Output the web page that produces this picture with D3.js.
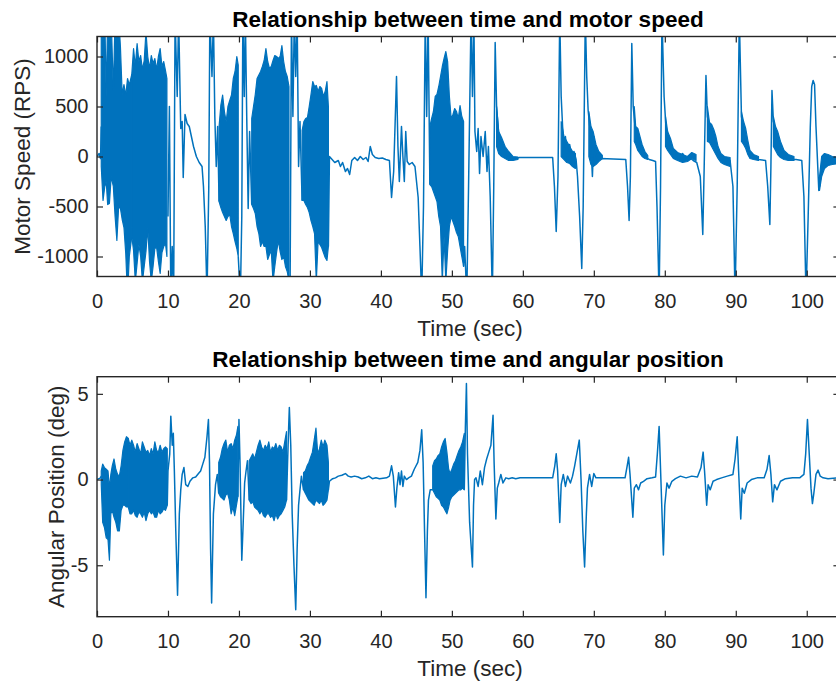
<!DOCTYPE html>
<html>
<head>
<meta charset="utf-8">
<script src="https://cdn.jsdelivr.net/npm/d3@7"></script>
<style>
  body { margin: 0; background: #fff; }
  text { font-family: "Liberation Sans", Arial, sans-serif; fill: #262626; }
</style>
</head>
<body>
<div id="chart"></div>
<script>
// tick labels
var timeTicks = [0, 10, 20, 30, 40, 50, 60, 70, 80, 90, 100];
var speedTicks = [-1000, -500, 0, 500, 1000];
var angleTicks = [-5, 0, 5];

// motor speed trace [sec, RPS] (values past +-1200 are clipped by the axes)
var speedTrace = [
  [0,0],[0.3,30],[0.5,-20],[0.6,300],
  [10.0,-600],[10.2,500],[10.4,-1400],[10.6,-900],[10.8,-1400],[11.0,1400],[11.3,600],[11.5,1400],[11.8,280],
  [12.0,350],[12.15,-210],[12.4,420],[12.7,330],[13.0,300],[13.3,200],[13.6,100],[14.0,0],[14.4,-60],
  [14.8,-100],[15.0,-300],[15.25,-700],[15.5,-1400],[15.75,-300],[15.9,1400],[16.2,800],[16.4,1400],
  [16.6,400],[16.8,-100],[17.0,300],[17.2,-450],
  [19.9,-1000],[20.2,-1400],[20.4,-600],[20.55,1400],[20.75,600],[20.9,1400],[21.1,380],[21.3,-520],
  [21.5,250],[21.8,-480],
  [27.05,-1250],[27.2,-1400],[27.4,1400],[27.6,400],[27.8,1400],[28.0,800],[28.2,1400],[28.4,-100],
  [28.6,350],[28.9,-440],
  [32.6,-900],[32.75,0],[33.0,-20],[33.5,-60],[34.0,-40],[34.3,-100],[34.6,-60],[35.0,-150],[35.3,-120],
  [35.6,-180],[35.9,-40],[36.3,-10],[36.7,-40],[37.1,0],[37.5,-30],[37.9,-10],[38.2,-50],[38.5,100],
  [38.8,20],[39.2,-10],[39.7,-20],[40.2,-15],[40.7,-30],[41.2,-40],[41.5,-410],[41.8,-150],[42.2,800],
  [42.4,100],[42.6,-250],[42.9,300],[43.1,0],[43.3,-250],[43.5,250],[43.7,-50],[44.0,-80],[44.4,-60],
  [44.8,-100],[45.25,-410],[45.5,-900],[45.75,-1400],[46.0,-500],[46.25,1400],[46.45,400],[46.65,1400],
  [46.9,-280],
  [51.65,-1100],[51.8,-900],[52.1,-1400],[52.35,-300],[52.7,1400],[52.9,600],[53.1,1400],[53.25,250],
  [53.5,50],[53.7,280],[53.9,-170],[54.1,200],[54.4,0],[54.7,250],[54.95,-150],[55.15,100],[55.4,-400],
  [55.7,-1400],[55.9,-300],[56.1,1140],[56.3,500],[56.6,220],[56.9,150],[57.3,80],[57.7,30],[58.1,-15],
  [58.6,-30],[59.1,-20],[59.5,-10],[64.2,-10],[64.45,-300],[64.7,-750],[64.95,-200],[65.2,1400],[65.4,600],
  [65.6,300],[65.8,100],[66.0,200],[66.3,-50],[66.6,120],[66.9,-20],[67.2,50],[67.5,-30],[67.7,-200],
  [68.0,-600],[68.3,-1120],[68.5,-500],[68.8,1400],[69.0,800],[69.2,460],[69.5,250],[69.8,-200],[70.0,200],
  [70.3,0],[70.6,-30],[71.0,-20],[74.5,-30],[74.75,-300],[74.97,-640],[75.15,-200],[75.35,1130],[75.55,500],
  [75.8,300],[76.1,220],[76.4,180],[76.7,100],[77.0,50],[77.4,-10],[77.8,-30],[78.3,-40],[78.7,-50],
  [78.9,-500],[79.2,-1400],[79.4,-300],[79.6,1400],[79.9,600],[80.2,250],[80.6,150],[81.0,50],[81.5,0],
  [82.0,-20],[82.5,30],[83.0,-30],[83.5,-10],[84.0,-40],[84.5,-60],[85.0,-200],[85.35,-780],[85.55,-100],
  [85.8,810],[86.0,400],[86.3,300],[86.6,250],[87.0,150],[87.5,50],[88.0,-20],[88.5,-30],[89.2,-40],
  [89.6,-300],[89.9,-1400],[90.2,-300],[90.5,1400],[90.8,400],[91.1,280],[91.5,150],[92.0,20],[92.5,-20],
  [93.2,-30],[94.2,-40],[94.5,-300],[94.8,-680],[94.95,-100],[95.1,660],[95.3,350],[95.6,270],[96.0,150],
  [96.5,40],[97.0,-10],[97.5,-30],[98.5,-30],[99.3,-40],[99.6,-400],[99.9,-1400],[100.2,-600],[100.5,300],
  [100.7,700],[100.9,760],[101.1,720],[101.3,300],[101.7,-340],[101.9,-250],[102.2,-50],[102.5,-100],
  [102.8,-30],[103.2,-80],[103.6,-40],[104.0,-60],[104.6,-50]
];

// dense oscillation envelopes of the speed trace [sec, low, high]
var speedBand0 = [
  [0.6,-100,1400],[0.85,-440,1400],[1.1,-300,1400],[1.3,-250,600],[1.5,-480,1400],[1.75,-470,1400],
  [2.0,-200,1400],[2.3,-300,650],[2.55,-600,1400],[2.8,-840,1400],[3.05,-500,1400],[3.3,-520,1100],
  [3.55,-630,620],[3.8,-710,720],[4.05,-970,610],[4.3,-1400,780],[4.55,-1000,715],[4.9,-800,820]
];
var speedBand1 = [
  [4.9,-800,820],[5.15,-940,1080],[5.4,-1250,900],[5.65,-1070,1130],[5.9,-880,950],[6.15,-1000,1010],
  [6.4,-1250,870],[6.65,-1100,960],[6.9,-950,1250],[7.15,-710,1000],[7.4,-1050,880],[7.65,-1250,1010],
  [7.9,-1100,930],[8.15,-920,980],[8.4,-910,870],[8.65,-1050,1000],[8.9,-1170,1080],[9.15,-960,900],
  [9.4,-900,950],[9.65,-870,860],[9.85,-1000,780]
];
var speedBand2 = [
  [17.2,-450,300],[17.45,-510,515],[17.7,-560,615],[17.95,-600,450],[18.2,-640,350],[18.45,-600,500],
  [18.7,-580,560],[18.95,-700,615],[19.2,-770,780],[19.45,-850,850],[19.7,-920,1000],[19.9,-1000,915]
];
var speedBand3 = [
  [21.8,-480,380],[22.05,-520,500],[22.3,-570,620],[22.55,-700,780],[22.8,-770,815],[23.05,-900,850],
  [23.3,-850,900],[23.55,-900,960],[23.8,-900,1080],[24.05,-1030,950],[24.3,-980,880],[24.55,-940,900],
  [24.8,-1250,960],[25.05,-1100,1010],[25.3,-960,1000],[25.55,-840,980],[25.8,-950,1000],[26.05,-1030,1110],
  [26.3,-1000,950],[26.55,-1100,850],[26.8,-1150,800],[27.05,-1250,700]
];
var speedBand4 = [
  [28.9,-440,260],[29.15,-440,350],[29.4,-480,380],[29.65,-510,390],[29.9,-560,500],[30.15,-640,620],
  [30.4,-700,750],[30.65,-770,700],[30.9,-1250,710],[31.15,-850,650],[31.4,-880,700],[31.65,-910,680],
  [31.9,-960,600],[32.15,-1010,650],[32.4,-1040,750],[32.6,-900,500]
];
var speedBand5 = [
  [46.9,-280,300],[47.15,-300,380],[47.4,-350,450],[47.65,-400,600],[47.9,-450,620],[48.15,-600,700],
  [48.4,-700,800],[48.65,-1250,900],[48.9,-800,980],[49.15,-1250,1050],[49.4,-940,950],[49.65,-700,600],
  [49.9,-600,380],[50.15,-650,420],[50.4,-700,480],[50.65,-760,450],[50.9,-800,380],[51.15,-900,510],
  [51.4,-1000,400],[51.65,-1100,350]
];
// fuzzy settling after each speed spike [sec, low, high]
var speedDecay1 = [[56.3,100,500],[56.6,30,250],[57.0,0,190],[57.5,-20,100],[58.0,-40,50],[58.6,-40,0],[59.3,-30,-5]];
var speedDecay2 = [[65.4,0,350],[65.8,-30,200],[66.2,-60,150],[66.6,-70,100],[67.0,-100,50],[67.4,-120,30]];
var speedDecay3 = [[69.3,0,450],[69.6,-80,300],[69.9,-100,250],[70.3,-80,120],[70.7,-50,50],[71.2,-20,10]];
var speedDecay4 = [[75.7,150,500],[75.9,120,300],[76.2,60,280],[76.5,30,200],[76.8,0,120],[77.2,-20,50],[77.6,-30,10]];
var speedDecay5 = [[80.1,100,400],[80.4,60,250],[80.8,20,180],[81.2,-20,80],[81.8,-40,40],[82.5,-60,20],[83.2,-50,0],[83.8,-20,40],[84.4,-40,20]];
var speedDecay6 = [[86.0,150,500],[86.3,140,340],[86.6,100,320],[86.9,60,270],[87.2,20,200],[87.5,-20,100],[87.9,-60,30],[88.4,-80,0],[89.2,-100,-10]];
var speedDecay7 = [[90.8,150,450],[91.1,120,350],[91.4,80,280],[91.7,20,160],[92.0,-20,60],[92.5,-30,20],[93.2,-40,0]];
var speedDecay8 = [[95.3,100,400],[95.6,60,300],[95.9,20,250],[96.3,-10,150],[96.8,-30,60],[97.4,-40,20],[98.2,-40,0]];
var speedDecay9 = [[101.8,-340,-200],[102.1,-200,0],[102.5,-120,30],[103.0,-90,20],[103.6,-80,0],[104.6,-70,-10]];

// angular position trace [sec, deg]
var angleTrace = [
  [0,0],[0.5,0.1],[0.6,0.2],
  [9.9,-1.5],[10.0,0.5],[10.25,1.5],[10.4,3.7],[10.6,2.0],[10.75,2.7],[10.9,0.5],[11.1,-3],[11.35,-6.75],
  [11.6,-2],[11.8,-0.6],[12.0,0.3],[12.25,0.7],[12.5,-0.3],[12.8,-0.4],[13.1,-0.1],[13.5,0.1],[13.9,0.15],
  [14.3,0.35],[14.6,0.5],[14.9,0.9],[15.2,1.3],[15.5,2.5],[15.7,3.5],[15.85,1],[16.0,-4],[16.15,-7.2],
  [16.4,-2],[16.7,-0.3],[16.95,0.3],[17.15,-0.8],
  [19.85,-1.0],[20.0,3.5],[20.15,1.0],[20.4,-4.7],[20.6,-2.5],[20.8,-0.2],[21.0,0.5],[21.2,1.1],[21.45,-1.2],
  [26.7,-1.2],[26.85,1.0],[27.0,3.0],[27.1,4.2],[27.3,2],[27.5,-2],[27.75,-5],[28.0,-7.6],[28.2,-4],
  [28.4,-1.5],[28.6,-0.6],[28.8,0.2],[29.1,-0.6],
  [32.6,-0.6],[32.75,-0.1],[33.2,0.05],[33.6,0.1],[34.0,0.2],[34.5,0.25],[35.0,0.35],[35.4,0.2],[35.8,0.15],
  [36.3,0.2],[36.8,0.15],[37.3,0.05],[37.8,0.1],[38.3,0.2],[38.8,0.05],[39.3,0.1],[39.8,0.05],[40.3,0.08],
  [40.8,0.1],[41.2,0.2],[41.5,0.8],[41.75,0.2],[42.05,-1.6],[42.25,-0.5],[42.5,0.4],[42.7,-0.3],[42.9,0.5],
  [43.1,-0.4],[43.3,0.2],[43.6,0],[43.9,0.1],[44.3,0.2],[44.7,0.6],[45.2,1.0],[45.5,1.7],[45.75,2.9],
  [45.95,1.0],[46.15,-3],[46.35,-6.9],[46.55,-3],[46.7,-1.2],[46.95,-0.6],[47.3,-0.6],
  [51.75,-0.6],[51.9,3.0],[52.05,5.6],[52.2,1.5],[52.5,-2.5],[52.9,-5.1],[53.05,-1.5],[53.2,0],[53.4,0.1],
  [53.7,-0.4],[54.0,0.5],[54.3,-0.3],[54.6,0.7],[54.9,1.2],[55.2,1.6],[55.5,2.0],[55.8,3.75],[55.95,1],
  [56.2,-2.3],[56.4,-0.5],[56.6,-0.2],[56.9,0.3],[57.2,-0.2],[57.6,0.1],[58.0,0.05],[58.5,0.1],[59.0,0.05],
  [59.6,0.1],[64.2,0.1],[64.5,0.8],[64.7,1.5],[64.9,0.5],[65.2,-2.5],[65.4,-0.3],[65.7,0.3],[66.0,-0.4],
  [66.3,0.2],[66.7,-0.2],[67.0,0.2],[67.3,0.8],[67.6,1.5],[67.95,2.3],[68.2,0],[68.45,-3],[68.7,-5.1],
  [68.95,-2],[69.1,-0.5],[69.4,0.3],[69.7,-0.4],[70.0,0.35],[70.3,0.1],[71.0,0.1],[74.4,0.1],[74.7,0.8],
  [74.9,1.3],[75.1,0.3],[75.5,-2.2],[75.7,-0.5],[76.0,-0.3],[76.3,-0.6],[76.6,-0.2],[77.0,-0.1],[77.5,0.05],
  [78.2,0.1],[78.7,0.15],[78.95,1.5],[79.2,3.1],[79.45,0],[79.8,-4.4],[80.0,-1.5],[80.3,-0.2],[80.6,-0.5],
  [81.0,-0.1],[81.5,0.05],[82.2,0.2],[83.0,0.1],[83.8,0.2],[84.6,0.15],[85.1,0.7],[85.4,1.6],[85.6,0.5],
  [85.9,-1.5],[86.1,-0.3],[86.4,-0.6],[86.8,-0.1],[87.3,0.0],[88.0,0.1],[88.8,0.2],[89.6,0.3],[89.9,1.2],
  [90.2,2.5],[90.4,0.5],[90.7,-2.3],[90.9,-0.5],[91.2,-0.8],[91.6,-0.2],[92.2,0.0],[93.0,0.1],[94.0,0.1],
  [94.4,0.6],[94.7,1.4],[94.95,0.3],[95.2,-1.3],[95.45,-0.3],[95.8,-0.6],[96.3,-0.1],[97.0,0.05],[98.0,0.1],
  [99.0,0.1],[99.6,0.3],[99.85,1.5],[100.1,3.5],[100.35,1.5],[100.6,-0.5],[100.8,-1.4],[101.0,-0.8],
  [101.3,0.3],[101.6,0.55],[101.9,0.2],[102.3,0.1],[103.0,0.05],[104.6,0.1]
];

// dense oscillation envelopes of the position trace [sec, low, high]
var angleBand0 = [
  [0.6,-0.3,0.5],[0.8,-2.5,0.9],[1.05,-2.8,0.7],[1.3,-3.4,0.6],[1.55,-3.5,0.5],[1.75,-4.7,-0.5],[1.95,-2.0,0.3],
  [2.15,-1.8,0.8],[2.4,-2.2,1.2],[2.65,-2.5,0.6],[2.9,-3.0,0.3],[3.15,-3.0,0.2],[3.4,-1.8,0.8],[3.65,-1.5,1.7],
  [3.9,-1.5,2.2],[4.15,-1.6,2.5],[4.4,-1.6,2.4]
];
var angleBand1 = [
  [4.4,-1.6,2.4],[4.65,-2.0,2.0],[4.9,-2.0,2.3],[5.15,-1.8,2.0],[5.4,-2.1,1.6],[5.65,-2.2,2.1],[5.9,-1.9,1.8],
  [6.15,-2.0,1.5],[6.4,-2.2,2.2],[6.65,-1.9,1.9],[6.9,-2.4,1.6],[7.15,-2.0,1.7],[7.4,-1.8,1.4],[7.65,-2.0,1.8],
  [7.9,-1.9,1.5],[8.15,-2.2,2.2],[8.4,-2.2,1.7],[8.65,-1.8,1.6],[8.9,-2.0,2.0],[9.15,-1.9,1.6],[9.4,-1.7,1.8],
  [9.65,-1.8,1.9],[9.9,-1.5,1.8]
];
var angleBand2 = [
  [17.15,-0.8,1.0],[17.4,-1.0,1.3],[17.65,-1.1,1.8],[17.9,-1.2,2.1],[18.15,-0.9,2.3],[18.4,-0.8,1.6],
  [18.65,-1.2,2.0],[18.9,-2.0,2.1],[19.15,-1.6,1.8],[19.4,-2.1,2.3],[19.65,-1.5,2.6],[19.85,-1.0,3.1]
];
var angleBand3 = [
  [21.45,-1.2,1.1],[21.7,-1.4,1.3],[21.95,-1.3,1.5],[22.2,-1.6,1.2],[22.45,-1.7,1.6],[22.7,-1.8,2.0],
  [22.95,-2.0,2.3],[23.2,-1.8,1.9],[23.45,-2.1,1.7],[23.7,-2.2,2.0],[23.95,-2.0,1.8],[24.2,-2.0,2.2],
  [24.45,-2.2,1.6],[24.7,-2.1,1.9],[24.95,-2.4,1.8],[25.2,-2.0,2.1],[25.45,-2.3,1.7],[25.7,-2.1,2.0],
  [25.95,-2.0,1.9],[26.2,-1.8,1.6],[26.45,-1.6,2.2],[26.7,-1.2,2.8]
];
var angleBand4 = [
  [29.1,-0.6,0.4],[29.35,-0.8,0.5],[29.6,-1.0,0.8],[29.85,-1.2,1.0],[30.1,-1.3,1.3],[30.35,-1.4,1.6],
  [30.6,-1.5,2.3],[30.85,-1.2,3.0],[31.1,-1.3,1.5],[31.35,-1.4,1.8],[31.6,-1.2,2.3],[31.85,-1.5,1.9],
  [32.1,-1.4,2.3],[32.4,-1.2,2.0],[32.6,-0.6,1.0]
];
var angleBand5 = [
  [47.3,-0.6,0.8],[47.55,-0.8,1.1],[47.8,-1.0,1.2],[48.05,-1.1,1.4],[48.3,-1.2,1.5],[48.55,-1.5,1.9],
  [48.8,-1.6,2.2],[49.05,-1.8,2.4],[49.3,-2.0,1.6],[49.55,-1.6,0.6],[49.75,-1.2,0.35],[50.0,-1.0,0.6],
  [50.25,-0.9,0.9],[50.5,-0.8,1.1],[50.75,-0.7,1.4],[51.0,-0.6,1.7],[51.25,-0.6,1.9],[51.5,-0.5,2.2],
  [51.75,-0.6,2.7]
];

var svgWidth = 836;
var svgHeight = 681;
var plotLeft = 97;
var plotRight = 839.4;
var blue = "#0072BD";
var axisColor = "#262626";

var svg = d3.select("#chart")
  .append("svg")
  .attr("width", svgWidth)
  .attr("height", svgHeight);

// cut the trace where a dense band takes over
function splitTrace(trace, bands) {
  var parts = [[trace[0]]];
  for (var i = 1; i < trace.length; i++) {
    var a = trace[i - 1][0], b = trace[i][0];
    var covered = bands.some(function(band) {
      return band[0][0] >= a - 0.2 && band[band.length - 1][0] <= b + 0.2 && b - a > 1;
    });
    if (covered) parts.push([]);
    parts[parts.length - 1].push(trace[i]);
  }
  return parts;
}

function drawPanel(p) {
  var x = d3.scaleLinear().domain([0, 104.6]).range([plotLeft, plotRight]);
  var y = d3.scaleLinear().domain(p.yDomain).range([p.bottom, p.top]);
  var g = svg.append("g");

  g.append("clipPath").attr("id", p.name)
    .append("rect")
    .attr("x", plotLeft).attr("y", p.top)
    .attr("width", plotRight - plotLeft).attr("height", p.bottom - p.top);

  var plot = g.append("g").attr("clip-path", "url(#" + p.name + ")");

  // dense parts as filled envelopes
  var band = d3.area().x(d => x(d[0])).y0(d => y(d[1])).y1(d => y(d[2]));
  p.bands.concat(p.decays).forEach(function(b) {
    plot.append("path").datum(b)
      .attr("d", band)
      .attr("fill", blue)
      .attr("stroke", blue)
      .attr("stroke-width", 1.2)
      .attr("stroke-linejoin", "round");
  });

  var line = d3.line().x(d => x(d[0])).y(d => y(d[1]));
  splitTrace(p.trace, p.bands).forEach(function(seg) {
    plot.append("path").datum(seg)
      .attr("d", line)
      .attr("fill", "none")
      .attr("stroke", blue)
      .attr("stroke-width", 1.5)
      .attr("stroke-linejoin", "round");
  });

  // axes, ticks pointing inward on all four sides
  g.append("g")
    .attr("transform", `translate(0, ${p.bottom})`)
    .call(d3.axisBottom(x).tickValues(timeTicks).tickSizeInner(-6).tickSizeOuter(0).tickPadding(17));
  g.append("g")
    .attr("transform", `translate(${plotLeft}, 0)`)
    .call(d3.axisLeft(y).tickValues(p.yTicks).tickFormat(d => String(d))
      .tickSizeInner(-6).tickSizeOuter(0).tickPadding(8.5));
  g.append("g")
    .attr("transform", `translate(0, ${p.top})`)
    .call(d3.axisTop(x).tickValues(timeTicks).tickSizeInner(-6).tickSizeOuter(0).tickFormat(""));
  g.append("g")
    .attr("transform", `translate(${plotRight}, 0)`)
    .call(d3.axisRight(y).tickValues(p.yTicks).tickSizeInner(-6).tickSizeOuter(0).tickFormat(""));

  g.selectAll(".domain").remove();
  g.selectAll(".tick line").attr("stroke", axisColor).attr("stroke-width", 1.2);
  g.selectAll(".tick text").attr("font-size", "20px").attr("font-family", null).attr("fill", axisColor);

  g.append("rect")
    .attr("x", plotLeft).attr("y", p.top)
    .attr("width", plotRight - plotLeft).attr("height", p.bottom - p.top)
    .attr("fill", "none")
    .attr("stroke", axisColor)
    .attr("stroke-width", 1.4);

  // title and labels
  g.append("text")
    .attr("x", 468).attr("y", p.top - 10)
    .attr("text-anchor", "middle")
    .attr("font-size", "22.5px")
    .attr("font-weight", "bold")
    .style("fill", "#000")
    .text(p.title);

  g.append("text")
    .attr("x", 470).attr("y", p.bottom + 59)
    .attr("text-anchor", "middle")
    .attr("font-size", "22.5px")
    .text("Time (sec)");

  g.append("text")
    .attr("transform", `translate(${p.labelX}, ${(p.top + p.bottom) / 2}) rotate(-90)`)
    .attr("text-anchor", "middle")
    .attr("font-size", "22.5px")
    .text(p.yLabel);
}

drawPanel({
  name: "speedClip",
  top: 36.5, bottom: 276.5,
  yDomain: [-1200, 1200],
  yTicks: speedTicks,
  trace: speedTrace,
  bands: [speedBand0, speedBand1, speedBand2, speedBand3, speedBand4, speedBand5],
  decays: [speedDecay1, speedDecay2, speedDecay3, speedDecay4, speedDecay5, speedDecay6, speedDecay7,
    speedDecay8, speedDecay9],
  title: "Relationship between time and motor speed",
  yLabel: "Motor Speed (RPS)",
  labelX: 30
});

drawPanel({
  name: "angleClip",
  top: 376.7, bottom: 616.7,
  yDomain: [-8, 6],
  yTicks: angleTicks,
  trace: angleTrace,
  bands: [angleBand0, angleBand1, angleBand2, angleBand3, angleBand4, angleBand5],
  decays: [],
  title: "Relationship between time and angular position",
  yLabel: "Angular Position (deg)",
  labelX: 64
});
</script>
</body>
</html>
